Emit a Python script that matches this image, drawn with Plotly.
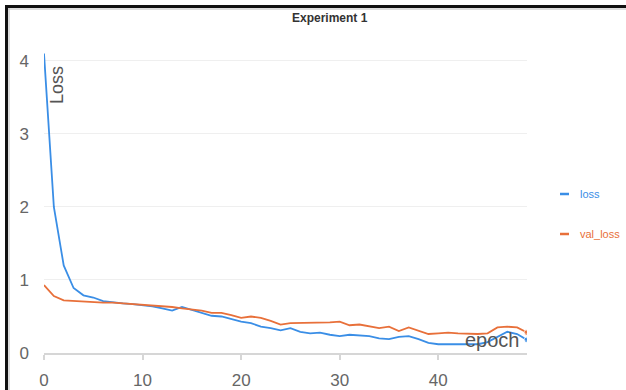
import plotly.graph_objects as go

epochs = list(range(50))

loss = [4.10, 2.00, 1.20, 0.89, 0.79, 0.76, 0.71, 0.69, 0.68, 0.67,
        0.66, 0.64, 0.61, 0.58, 0.63, 0.59, 0.55, 0.51, 0.50, 0.46,
        0.43, 0.41, 0.36, 0.34, 0.31, 0.34, 0.29, 0.27, 0.28, 0.25,
        0.23, 0.25, 0.24, 0.23, 0.20, 0.19, 0.22, 0.23, 0.19, 0.14,
        0.12, 0.12, 0.13, 0.13, 0.12, 0.15, 0.22, 0.29, 0.26, 0.18]

val_loss = [0.93, 0.78, 0.72, 0.71, 0.70, 0.70, 0.69, 0.69, 0.68, 0.68,
            0.66, 0.65, 0.64, 0.63, 0.61, 0.60, 0.58, 0.55, 0.55, 0.52,
            0.48, 0.50, 0.48, 0.44, 0.39, 0.41, 0.41, 0.41, 0.41, 0.42,
            0.43, 0.38, 0.39, 0.37, 0.34, 0.36, 0.30, 0.35, 0.31, 0.26,
            0.27, 0.28, 0.27, 0.26, 0.26, 0.27, 0.35, 0.36, 0.35, 0.28]

x_ticks = [0, 10, 20, 30, 40]
y_ticks = [0, 1, 2, 3, 4]

BLUE = "#3a8ee6"
ORANGE = "#e8703a"
FONT = "Liberation Sans, Arial"

W, H = 626, 390
L, R, T, B = 44, 99, 39, 37
pw, ph = W - L - R, H - T - B


def px_x(p):
    return (p - L) / pw


def px_y(p):
    return (H - B - p) / ph


end_marker = [0] * (len(epochs) - 1) + [6]

fig = go.Figure()
fig.add_trace(go.Scatter(x=epochs, y=loss, name="loss", mode="lines+markers",
                         line=dict(color=BLUE, width=1.8),
                         marker=dict(size=end_marker, color=BLUE)))
fig.add_trace(go.Scatter(x=epochs, y=val_loss, name="val_loss", mode="lines+markers",
                         line=dict(color=ORANGE, width=1.8),
                         marker=dict(size=end_marker, color=ORANGE)))

shapes = [
    # frame edges
    dict(type="line", xref="paper", yref="paper", x0=px_x(6), x1=px_x(W + 5),
         y0=px_y(6.5), y1=px_y(6.5), line=dict(color="#111", width=3)),
    dict(type="line", xref="paper", yref="paper", x0=px_x(6.5), x1=px_x(6.5),
         y0=px_y(5), y1=px_y(H + 5), line=dict(color="#111", width=3)),
    dict(type="line", xref="paper", yref="paper", x0=px_x(8), x1=px_x(W + 5),
         y0=px_y(9), y1=px_y(9), line=dict(color="#bbb", width=1)),
    dict(type="line", xref="paper", yref="paper", x0=px_x(9), x1=px_x(9),
         y0=px_y(8), y1=px_y(H + 5), line=dict(color="#bbb", width=1)),
    # legend swatches
    dict(type="line", xref="paper", yref="paper", x0=px_x(560), x1=px_x(569),
         y0=px_y(194), y1=px_y(194), line=dict(color=BLUE, width=2.5)),
    dict(type="line", xref="paper", yref="paper", x0=px_x(560), x1=px_x(569),
         y0=px_y(234), y1=px_y(234), line=dict(color=ORANGE, width=2.5)),
]


def label(text, x, y, size, color, xanchor="center", angle=0):
    return dict(text=text, xref="paper", yref="paper", x=px_x(x), y=px_y(y),
                xanchor=xanchor, yanchor="middle", textangle=angle,
                showarrow=False, font=dict(size=size, color=color, family=FONT))


annotations = [
    label("<b>Experiment 1</b>", 330, 18, 12, "#333"),
    label("Loss", 57, 85, 18, "#555", angle=-90),
    label("epoch", 492, 340, 20, "#555"),
    label("loss", 578, 194, 11, BLUE, xanchor="left"),
    label("val_loss", 578, 234, 11, ORANGE, xanchor="left"),
]

fig.update_layout(
    width=W, height=H,
    margin=dict(l=L, r=R, t=T, b=B, pad=0),
    paper_bgcolor="white", plot_bgcolor="white",
    showlegend=False,
    shapes=shapes,
    annotations=annotations,
    font=dict(family=FONT, color="#666"),
    xaxis=dict(range=[0, 49], tickvals=x_ticks, showgrid=False, zeroline=False,
               automargin=False,
               showline=True, linecolor="#d6d6d6", linewidth=2,
               ticks="outside", ticklen=5, tickcolor="#d6d6d6", tickwidth=2,
               ticklabelstandoff=6, tickfont=dict(size=17, color="#666")),
    yaxis=dict(range=[0, 4.3], tickvals=y_ticks, showgrid=True, gridcolor="#efefef",
               gridwidth=1, zeroline=False, showline=False, automargin=False,
               ticklabelstandoff=14, tickfont=dict(size=17, color="#666")),
)

fig.write_html("out.html")
